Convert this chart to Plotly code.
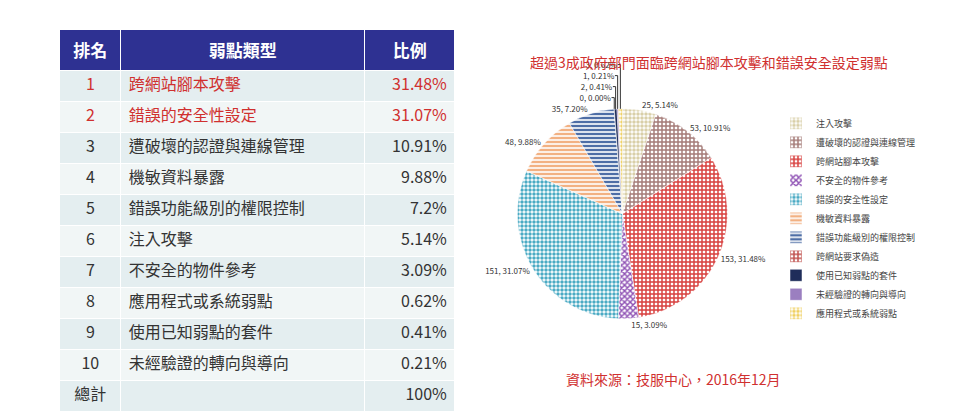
import plotly.graph_objects as go

ranks = ["1", "2", "3", "4", "5", "6", "7", "8", "9", "10", "總計"]
types = ["跨網站腳本攻擊", "錯誤的安全性設定", "遭破壞的認證與連線管理", "機敏資料暴露",
         "錯誤功能級別的權限控制", "注入攻擊", "不安全的物件參考", "應用程式或系統弱點",
         "使用已知弱點的套件", "未經驗證的轉向與導向", ""]
ratios = ["31.48%", "31.07%", "10.91%", "9.88%", "7.2%", "5.14%", "3.09%", "0.62%",
          "0.41%", "0.21%", "100%"]

pie_labels = ["注入攻擊", "遭破壞的認證與連線管理", "跨網站腳本攻擊", "不安全的物件參考",
              "錯誤的安全性設定", "機敏資料暴露", "錯誤功能級別的權限控制", "跨網站要求偽造",
              "使用已知弱點的套件", "未經驗證的轉向與導向", "應用程式或系統弱點"]
pie_values = [25, 53, 153, 15, 151, 48, 35, 0, 2, 1, 3]
pie_colors = ["#d9cfa8", "#a57b78", "#d8403e", "#8d4fb3", "#4aaac4", "#f2b183",
              "#4e6ea6", "#c0504d", "#1f2d5a", "#9b7fc0", "#f0d060"]
pie_shapes = [".", "+", "+", "x", ".", "-", "-", "+", "", "", "."]

FONT = "Noto Sans CJK TC"
n = len(ranks)
fills = [["#e4eef0" if i % 2 == 0 else "#f1f6f6" for i in range(n)]] * 3
fcol = [["#d0302f" if i < 2 else "#333333" for i in range(n)]] * 3

fig = go.Figure()
fig.add_trace(go.Table(
    domain=dict(x=[0.054, 0.466], y=[0.02, 0.95]),
    columnwidth=[61, 244, 90],
    header=dict(values=["<b>排名</b>", "<b>弱點類型</b>", "<b>比例</b>"],
                fill_color="#2e3192", line_color="white", align="center",
                font=dict(family=FONT, size=17, color="white"), height=29),
    cells=dict(values=[ranks, types, ratios], fill_color=fills, line_color="white",
               align=["center", "left", "right"],
               font=dict(family=FONT, size=16, color=fcol), height=31),
))
fig.add_trace(go.Pie(
    labels=pie_labels, values=pie_values, sort=False, direction="clockwise",
    rotation=0, domain=dict(x=[0.53, 0.75], y=[0.26, 0.76]),
    marker=dict(colors=pie_colors, line=dict(color="white", width=0.5),
                pattern=dict(shape=pie_shapes, fgcolor=pie_colors, bgcolor="white",
                             fillmode="replace", size=4, solidity=0.6)),
    textposition="outside", texttemplate="%{value}, %{percent:.2%}",
    textfont=dict(family=FONT, size=8, color="#333"), showlegend=True,
))
fig.update_layout(
    width=960, height=420, margin=dict(l=0, r=0, t=0, b=0),
    paper_bgcolor="white", font=dict(family=FONT),
    legend=dict(x=0.8, y=0.76, yanchor="top", font=dict(size=9, color="#444"),
                itemwidth=30, tracegroupgap=0),
    annotations=[
        dict(text="超過3成政府部門面臨跨網站腳本攻擊和錯誤安全設定弱點", x=0.73, y=0.9,
             xanchor="center", xref="paper", yref="paper", showarrow=False,
             font=dict(size=14, color="#d0302f", family=FONT)),
        dict(text="資料來源：技服中心，2016年12月", x=0.693, y=0.088,
             xanchor="center", xref="paper", yref="paper", showarrow=False,
             font=dict(size=14, color="#d0302f", family=FONT)),
    ],
)
fig.write_html("out.html")
